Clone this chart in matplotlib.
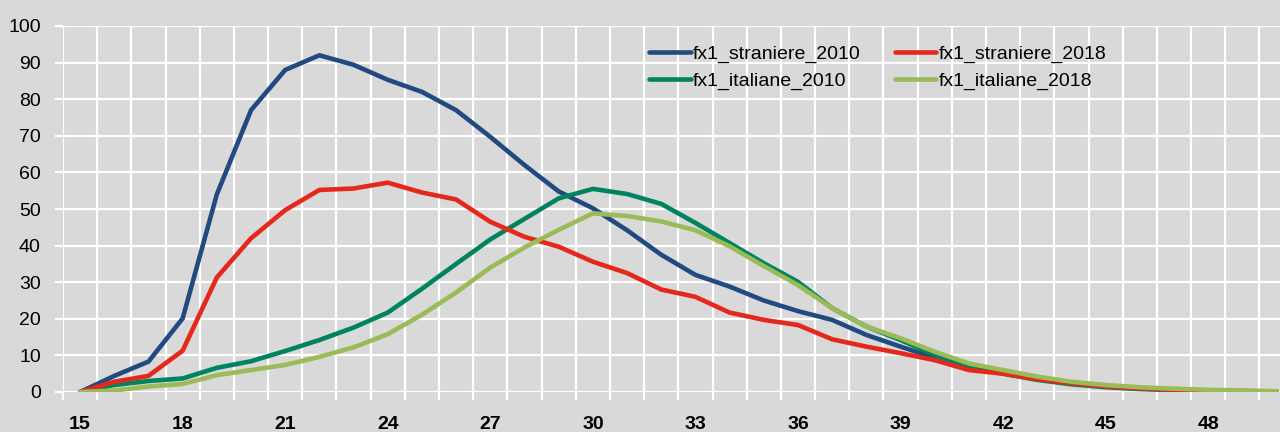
import numpy as np
import matplotlib
matplotlib.use('Agg')
import matplotlib.pyplot as plt

# ages and fertility rates (per 1000)
ages = list(range(15, 51))

straniere_2010 = [0, 4.4, 8.3, 20.1, 54, 77, 88, 92, 89.4, 85.3, 82, 77, 69.7, 62, 54.8, 50.2,
                  44.2, 37.5, 32, 28.8, 25, 22.1, 19.7, 15.6, 12.4, 9.3, 6.8, 5.5, 3.7, 2.5,
                  1.6, 1.0, 0.6, 0.4, 0.25, 0.1]
straniere_2018 = [0, 2.8, 4.4, 11.3, 31.3, 42, 49.7, 55.2, 55.6, 57.2, 54.5, 52.6, 46.5, 42.4,
                  39.7, 35.6, 32.5, 28, 26, 21.7, 19.7, 18.3, 14.4, 12.4, 10.6, 8.7, 6.0, 5.0,
                  3.5, 2.4, 1.5, 1.0, 0.6, 0.4, 0.2, 0.1]
italiane_2010 = [0, 1.9, 3.0, 3.7, 6.6, 8.4, 11.2, 14.2, 17.6, 21.7, 28.2, 35, 41.7, 47.3, 52.9,
                 55.5, 54.1, 51.4, 46.2, 40.7, 35.2, 30.1, 22.9, 17.9, 14.2, 10.1, 6.8, 5.0,
                 3.3, 2.1, 1.3, 0.8, 0.5, 0.3, 0.2, 0.1]
italiane_2018 = [0, 0.4, 1.5, 2.2, 4.6, 6.0, 7.4, 9.6, 12.2, 15.8, 21.1, 27.2, 34, 39.5, 44.3,
                 48.8, 48.1, 46.6, 44.2, 39.8, 34.4, 29.2, 22.9, 17.9, 14.7, 11.0, 7.8, 6.0,
                 4.2, 2.8, 1.9, 1.3, 0.9, 0.6, 0.45, 0.2]

bg = '#d9d9d9'
plt.rcParams['font.family'] = ['Liberation Sans', 'DejaVu Sans']

fig = plt.figure(figsize=(12.8, 4.32), dpi=100, facecolor=bg)
ax = fig.add_axes([63/1280, 40/432, 1 - 63/1280, 366/432])
ax.set_facecolor(bg)

lw = 3.3
l1, = ax.plot(ages, straniere_2010, color='#214b80', lw=lw, label='fx1_straniere_2010', solid_capstyle='round')
l3, = ax.plot(ages, italiane_2010, color='#00845f', lw=lw, label='fx1_italiane_2010', solid_capstyle='round')
l2, = ax.plot(ages, straniere_2018, color='#e5281c', lw=lw, label='fx1_straniere_2018', solid_capstyle='round')
l4, = ax.plot(ages, italiane_2018, color='#9bbb59', lw=lw, label='fx1_italiane_2018', solid_capstyle='round')

ax.set_xlim(14.5, 50.1)
ax.set_ylim(0, 100)

ax.set_xticks(range(15, 49, 3))
ax.set_xticks(np.arange(14.5, 50, 1), minor=True)
ax.set_yticks(range(0, 101, 10))

ax.grid(True, which='minor', axis='x', color='white', lw=1.6)
ax.grid(True, which='major', axis='y', color='white', lw=1.6)
ax.set_axisbelow(True)
for s in ax.spines.values():
    s.set_visible(False)

ax.tick_params(axis='x', which='major', length=0, pad=17, labelsize=14)
ax.tick_params(axis='x', which='minor', length=6, width=1.6, color='white')
ax.tick_params(axis='y', length=6, width=1.6, color='white', pad=10, labelsize=14)
for t in ax.get_xticklabels():
    t.set_fontweight('bold')

leg = ax.legend(handles=[l1, l3, l2, l4], ncol=2, loc='upper left',
                bbox_to_anchor=((649 - 63) / 1217, 1 - (45.5 - 26) / 366),
                frameon=False, fontsize=14, handlelength=2.15, handletextpad=0.1,
                columnspacing=1.75, labelspacing=0.47, borderpad=0, borderaxespad=0)
for h in leg.get_lines():
    h.set_linewidth(3.3)

fig.savefig('out.png', dpi=100, facecolor=bg)
